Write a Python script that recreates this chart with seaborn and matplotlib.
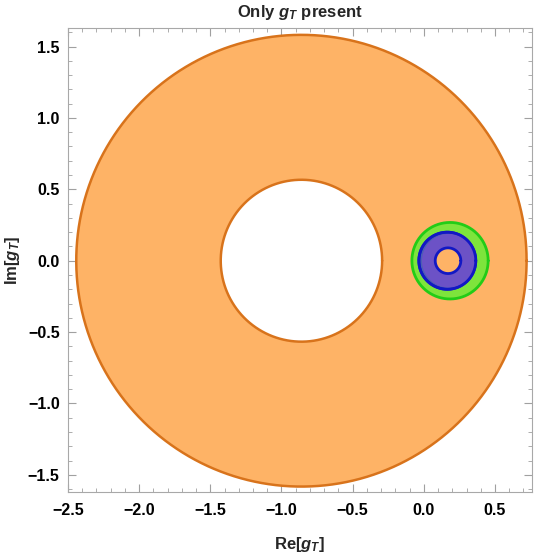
import numpy as np
import pandas as pd
import matplotlib
matplotlib.use("Agg")
import matplotlib.pyplot as plt
import seaborn as sns

# ---- data ----
# orange allowed annulus: centre, inner and outer radius
ann_center = (-0.86, 0.0)
ann_r_in = 0.567
ann_r_out = 1.582

# small regions near the origin (centre x, centre y, radius)
green_disk = (0.184, 0.0, 0.268)
blue_disk = (0.165, 0.0, 0.200)
purple_disk = (0.175, 0.0, 0.188)
hole_disk = (0.170, 0.0, 0.090)

xlim = (-2.5, 0.76)
ylim = (-1.62, 1.63)
xticks = [-2.5, -2.0, -1.5, -1.0, -0.5, 0.0, 0.5]
yticks = [-1.5, -1.0, -0.5, 0.0, 0.5, 1.0, 1.5]

# colours
orange_fill = "#FEB366"
orange_edge = "#D8731B"
green_fill = "#7EE43C"
green_edge = "#22CC17"
blue_fill = "#4D5DB4"
purple_fill = "#6C52C6"
blue_edge = "#1218C4"

sns.set_theme(style="ticks")
plt.rcParams["font.family"] = ["Liberation Sans", "DejaVu Sans"]
plt.rcParams["font.weight"] = "bold"
plt.rcParams["mathtext.fontset"] = "custom"
plt.rcParams["mathtext.rm"] = "Liberation Sans:bold"
plt.rcParams["mathtext.it"] = "Liberation Sans:italic:bold"
plt.rcParams["mathtext.bf"] = "Liberation Sans:bold"

fig = plt.figure(figsize=(5.38, 5.57), dpi=100)
ax = fig.add_axes([68 / 538, 1 - 492 / 557, 464 / 538, 464 / 557])

theta = np.linspace(0, 2 * np.pi, 400)


def circle(cx, cy, r):
    return pd.DataFrame({"x": cx + r * np.cos(theta), "y": cy + r * np.sin(theta)})


def disk(cx, cy, r, fill, edge=None, lw=1.6, z=1):
    c = circle(cx, cy, r)
    ax.fill(c["x"], c["y"], color=fill, lw=0, zorder=z)
    if edge is not None:
        sns.lineplot(data=c, x="x", y="y", sort=False, estimator=None,
                     color=edge, lw=lw, ax=ax, zorder=z + 0.5)


# orange annulus: outer disk then the white hole
disk(ann_center[0], ann_center[1], ann_r_out, orange_fill, orange_edge, lw=1.8, z=1)
disk(ann_center[0], ann_center[1], ann_r_in, "white", orange_edge, lw=1.8, z=2)

# green region
disk(*green_disk, green_fill, green_edge, lw=2.0, z=3)
# blue region (under purple)
disk(*blue_disk, blue_fill, blue_edge, lw=2.0, z=4)
disk(*purple_disk, purple_fill, None, z=5)
# re-draw blue edge over purple
c = circle(*blue_disk)
sns.lineplot(data=c, x="x", y="y", sort=False, estimator=None,
             color=blue_edge, lw=2.0, ax=ax, zorder=6)
# inner hole shows the orange
disk(*hole_disk, orange_fill, blue_edge, lw=2.0, z=7)

ax.set_xlim(*xlim)
ax.set_ylim(*ylim)
ax.set_xticks(xticks)
ax.set_yticks(yticks)
ax.set_xticklabels([f"{v:.1f}".replace("-", "\u2212") for v in xticks])
ax.set_yticklabels([f"{v:.1f}".replace("-", "\u2212") for v in yticks])
ax.xaxis.set_minor_locator(matplotlib.ticker.MultipleLocator(0.1))
ax.yaxis.set_minor_locator(matplotlib.ticker.MultipleLocator(0.1))
ax.tick_params(which="both", direction="in", top=True, right=True,
               color="#A0A0A0", labelsize=11.5, labelcolor="black")
ax.tick_params(which="major", length=5.5, width=0.8, pad=6)
ax.tick_params(axis="x", which="major", pad=8)
ax.tick_params(which="minor", length=3, width=0.6)
for lab in ax.get_xticklabels() + ax.get_yticklabels():
    lab.set_fontweight("bold")
for s in ax.spines.values():
    s.set_color("#A8A8A8")
    s.set_linewidth(0.8)

ax.set_xlabel(r"Re[$g_T$]", fontsize=12, fontweight="bold")
ax.set_ylabel(r"Im[$g_T$]", fontsize=12, fontweight="bold")
ax.xaxis.set_label_coords((300 - 68) / 464, (492 - 545) / 464)
ax.yaxis.set_label_coords((13 - 68) / 464, 0.5)
ax.xaxis.label.set_verticalalignment("center")
ax.yaxis.label.set_verticalalignment("center")
ax.set_title(r"Only $g_T$ present", fontsize=12, fontweight="bold", pad=8)

fig.savefig("out.png", dpi=100)
